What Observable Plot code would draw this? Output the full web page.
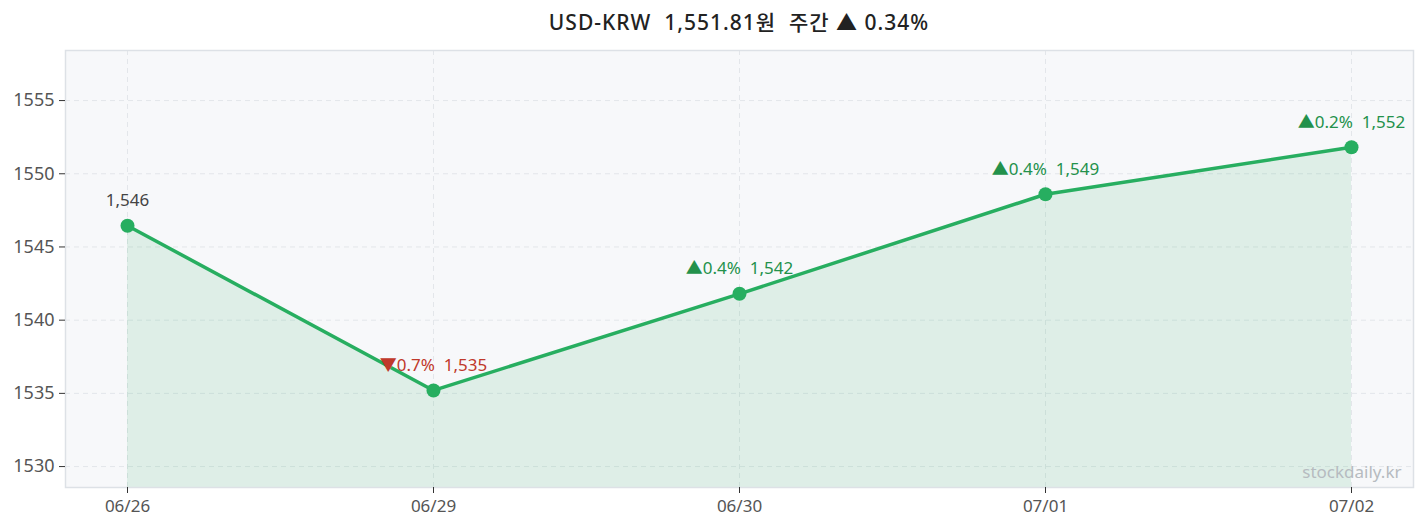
<!DOCTYPE html>
<html>
<head>
<meta charset="utf-8">
<script src="https://cdn.jsdelivr.net/npm/d3@7"></script>
<script src="https://cdn.jsdelivr.net/npm/@observablehq/plot@0.6"></script>
<style>
  html, body { margin: 0; padding: 0; background: #ffffff; }
  body { width: 1426px; height: 527px; overflow: hidden; font-family: "Noto Sans", "Noto Sans CJK KR", sans-serif; }
  #title { box-sizing: border-box; height: 44px; padding-left: 65px; padding-right: 13px; text-align: center; line-height: 44px;
    white-space: pre; font-family: "Noto Sans", "Noto Sans CJK KR", sans-serif; font-size: 21px; letter-spacing: 1px; font-weight: 500; color: #222; }
  svg { display: block; }
</style>
</head>
<body>
<div id="title"></div>
<div id="chart"></div>
<script>
const dates = ["06/26", "06/29", "06/30", "07/01", "07/02"];
const values = [1546.45, 1535.2, 1541.8, 1548.6, 1551.81];
const yTicks = [1530, 1535, 1540, 1545, 1550, 1555];
const yDomain = [1528.57, 1558.42];
const titleText = "USD-KRW  1,551.81원  주간 ▲ 0.34%";
const watermark = "stockdaily.kr";

document.getElementById("title").textContent = titleText;

const fmt = new Intl.NumberFormat("en-US", {maximumFractionDigits: 0});
const data = dates.map((d, i) => {
  const v = values[i];
  let label, dir = 0;
  if (i === 0) {
    label = fmt.format(v);
  } else {
    const pct = (v - values[i - 1]) / values[i - 1] * 100;
    dir = pct >= 0 ? 1 : -1;
    label = (dir > 0 ? "▲" : "▼") + Math.abs(pct).toFixed(1) + "%\u00a0\u00a0" + fmt.format(v);
  }
  return {date: d, value: v, label, dir};
});

const labelColor = d => d.dir > 0 ? "#23914b" : d.dir < 0 ? "#c0392b" : "#444";

const chart = Plot.plot({
  width: 1426,
  height: 483,
  marginTop: 6,
  marginBottom: 40,
  marginLeft: 65,
  marginRight: 13,
  style: {fontFamily: "'Noto Sans', 'Noto Sans CJK KR', sans-serif", fontSize: "17px", background: "#ffffff"},
  x: {type: "point", domain: dates, padding: 0.197, label: null},
  y: {domain: yDomain, ticks: yTicks, label: null},
  marks: [
    Plot.frame({fill: "#f7f8fa", stroke: "none"}),
    Plot.gridY(yTicks, {stroke: "#e3e6ea", strokeOpacity: 1, strokeDasharray: "5,4"}),
    Plot.gridX(dates, {stroke: "#e3e6ea", strokeOpacity: 1, strokeDasharray: "5,4"}),
    Plot.areaY(data, {x: "date", y1: yDomain[0], y2: "value", fill: "#27ae60", fillOpacity: 0.12}),
    Plot.line(data, {x: "date", y: "value", stroke: "#27ae60", strokeWidth: 3.5}),
    Plot.dot(data, {x: "date", y: "value", r: 7, fill: "#27ae60", stroke: "none"}),
    Plot.text(data, {x: "date", y: "value", text: "label", dy: -25, fill: labelColor, fontSize: 17, textAnchor: "middle"}),
    Plot.text([watermark], {frameAnchor: "bottom-right", dx: -12, dy: -10, fill: "#b6bbc0", fontSize: 17}),
    Plot.frame({stroke: "#dde1e6", strokeWidth: 1.5}),
    Plot.axisY({ticks: yTicks, tickSize: 6, tickPadding: 5, color: "#555", tickFormat: d => String(d), fontSize: 18}),
    Plot.axisX({tickSize: 6, tickPadding: 6, color: "#555", fontSize: 17})
  ]
});
chart.querySelectorAll("[aria-label^='y-axis tick'] path, [aria-label^='x-axis tick'] path").forEach(p => p.setAttribute("stroke", "#333"));
document.getElementById("chart").appendChild(chart);
</script>
</body>
</html>
